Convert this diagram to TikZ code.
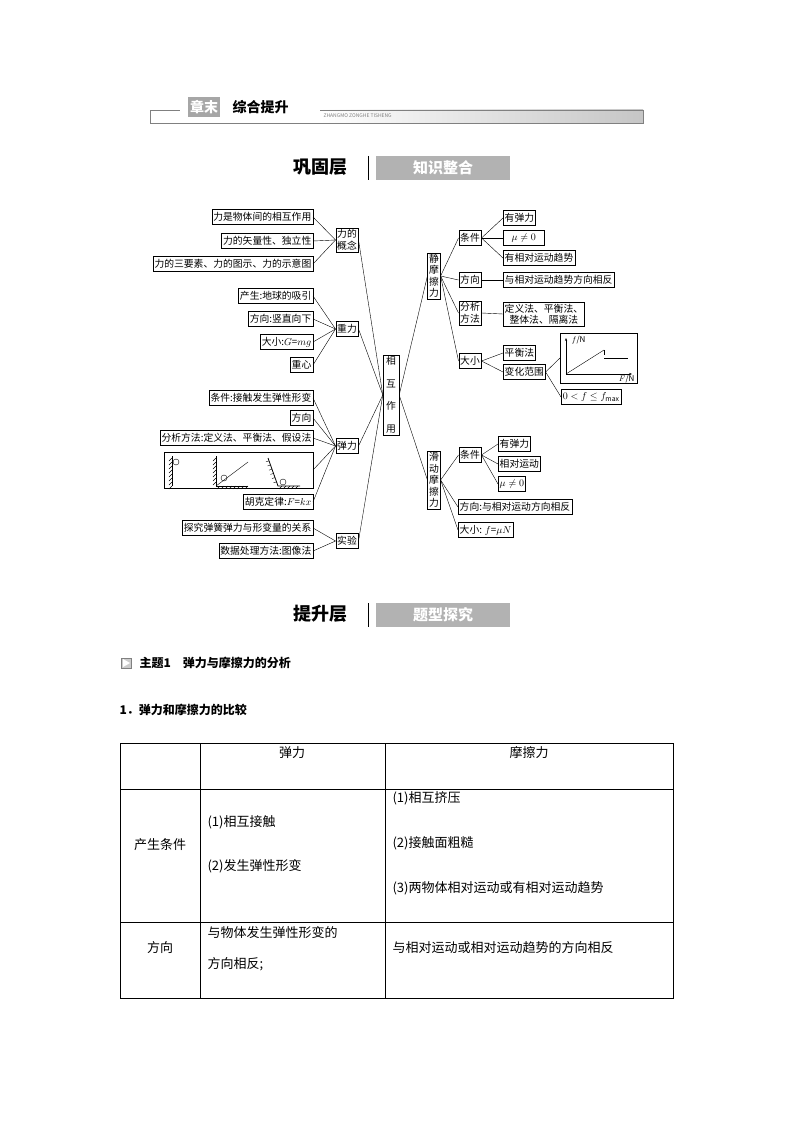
\documentclass[tikz,border=0pt]{standalone}
\usepackage{fontspec}
\setmainfont{Noto Sans CJK SC}
\usetikzlibrary{positioning,calc,arrows.meta}

\tikzset{
  box/.style={draw, inner sep=1.5pt, minimum height=15pt, font=\fontsize{9.8}{10}\selectfont},
  vbox/.style={draw, inner sep=1.5pt, align=center, font=\fontsize{9.8}{11.5}\selectfont},
  cell/.style={anchor=west, font=\fontsize{13}{15}\selectfont},
  banner/.style={fill=gray!60, text=white, font=\bfseries\fontsize{15}{15}\selectfont},
}

\begin{document}
\begin{tikzpicture}[x=1pt,y=-1pt]
\useasboundingbox (0,0) rectangle (794,1123);

% header
\shade[left color=white, right color=gray!45] (320,110) rectangle (643,123);
\draw[gray] (150,110) -- (180,110);
\draw[gray] (320,110) -- (643,110) -- (643,123) -- (150,123) -- (150,110);
\node[fill=gray!70, text=white, font=\bfseries\fontsize{14}{14}\selectfont, inner sep=2pt, minimum height=20pt] (zm) at (204,107) {章末};
\node[font=\bfseries\fontsize{14}{14}\selectfont, anchor=west] (zh) at (229,107) {综合提升};
\node[font=\fontsize{5}{5}\selectfont, text=gray, anchor=west] (pin) at (320,116) {ZHANGMO ZONGHE TISHENG};

\node[font=\bfseries\fontsize{18}{18}\selectfont] (gg) at (320,167) {巩固层};
\draw (368,156) -- (368,180);
\node[banner, minimum width=134pt, minimum height=24pt] (zs) at (443,168) {知识整合};

% left side
\node[box, anchor=east] (l1) at (313,217) {力是物体间的相互作用};
\node[box, anchor=east] (l2) at (313,241) {力的矢量性、独立性};
\node[box, anchor=east] (l3) at (313,264) {力的三要素、力的图示、力的示意图};
\node[vbox] (gn) at (347,240) {力的\\概念};
\node[box, anchor=east] (g1) at (313,296) {产生:地球的吸引};
\node[box, anchor=east] (g2) at (313,319) {方向:竖直向下};
\node[box, anchor=east] (g3) at (313,342) {大小:$G$=$mg$};
\node[box, anchor=east] (g4) at (313,365) {重心};
\node[box] (zl) at (347,329) {重力};
\node[box, anchor=east] (e1) at (313,398) {条件:接触发生弹性形变};
\node[box, anchor=east] (e2) at (313,418) {方向};
\node[box, anchor=east] (e3) at (313,438) {分析方法:定义法、平衡法、假设法};
\node[draw, minimum width=149pt, minimum height=36pt, anchor=east] (e4) at (313,470) {};
\node[box, anchor=east] (e5) at (313,502) {胡克定律:$F$=$kx$};
\node[box] (tl) at (347,446) {弹力};
\node[box, anchor=east] (s1) at (313,528) {探究弹簧弹力与形变量的关系};
\node[box, anchor=east] (s2) at (313,551) {数据处理方法:图像法};
\node[box] (sy) at (347,541) {实验};

% spring pictures
\draw[thick] (172,456) -- (172,486);
\foreach \y in {458,462,...,486} \draw (172,\y) -- (169,\y+3);
\draw (176,462) circle (3pt);
\draw[thick] (216,456) -- (216,486) -- (248,486);
\foreach \y in {458,462,...,482} \draw (216,\y) -- (213,\y+3);
\foreach \x in {220,224,...,248} \draw (\x,486) -- (\x-3,489);
\draw (216,486) -- (248,462);
\draw (224,478) circle (3pt);
\draw[thick] (268,458) -- (278,486) -- (300,486);
\foreach \t in {0.1,0.25,...,0.9} \draw ($(268,458)!\t!(278,486)$) -- ++(-3,1);
\foreach \x in {282,286,...,300} \draw (\x,486) -- (\x-3,489);
\draw (283,482) circle (3pt);

\node[vbox, minimum width=16pt] (xh) at (391,395) {相\\[11pt]互\\[11pt]作\\[11pt]用};

\foreach \c/\p in {l1/gn,l2/gn,l3/gn,g1/zl,g2/zl,g3/zl,g4/zl,e1/tl,e2/tl,e3/tl,e4/tl,e5/tl,s1/sy,s2/sy}
  \draw (\c.east) -- (\p.west);
\foreach \p in {gn,zl,tl,sy}
  \draw (\p.east) -- (xh.west);

% right side
\node[vbox] (jm) at (434,276) {静\\摩\\擦\\力};
\node[box] (t1) at (470,238) {条件};
\node[box, anchor=west] (t11) at (503,218) {有弹力};
\node[box, anchor=west, minimum width=41pt] (t12) at (503,238) {$\mu\neq 0$};
\node[box, anchor=west] (t13) at (503,258) {有相对运动趋势};
\node[box] (t2) at (470,280) {方向};
\node[box, anchor=west] (t21) at (503,280) {与相对运动趋势方向相反};
\node[vbox] (t3) at (470,313) {分析\\方法};
\node[vbox, anchor=west] (t31) at (503,314) {定义法、平衡法、\\整体法、隔离法};
\node[box] (t4) at (470,361) {大小};
\node[box, anchor=west] (t41) at (503,353) {平衡法};
\node[box, anchor=west] (t42) at (503,372) {变化范围};
\node[draw, minimum width=77pt, minimum height=50pt, anchor=west] (t43) at (560,358) {};
\node[box, anchor=west, minimum width=60pt] (t44) at (561,397) {$0<f\leq f_{\max}$};
\draw[-{Stealth[length=3pt]}] (566,374) -- (566,338);
\draw[-{Stealth[length=3pt]}] (566,374) -- (632,374);
\draw (566,374) -- (604,350);
\draw (604,350) -- (604,355);
\draw (604,358) -- (628,358);
\node[font=\fontsize{8}{8}\selectfont, anchor=west] (fy) at (568,340) {$f$/N};
\node[font=\fontsize{8}{8}\selectfont, anchor=north east] (fx) at (638,372) {$F$/N};

\node[vbox] (hd) at (434,480) {滑\\动\\摩\\擦\\力};
\node[box] (h1) at (470,455) {条件};
\node[box, anchor=west] (h11) at (498,444) {有弹力};
\node[box, anchor=west] (h12) at (498,464) {相对运动};
\node[box, anchor=west] (h13) at (498,484) {$\mu\neq 0$};
\node[box, anchor=west] (h2) at (458,507) {方向:与相对运动方向相反};
\node[box, anchor=west] (h3) at (458,530) {大小: $f$=$\mu N$};

\foreach \p in {jm,hd} \draw (xh.east) -- (\p.west);
\foreach \c in {t1,t2,t3,t4} \draw (jm.east) -- (\c.west);
\foreach \c in {t11,t12,t13} \draw (t1.east) -- (\c.west);
\draw (t2.east) -- (t21.west);
\draw (t3.east) -- (t31.west);
\foreach \c in {t41,t42} \draw (t4.east) -- (\c.west);
\foreach \c in {t43,t44} \draw (t42.east) -- (\c.west);
\foreach \c in {h1,h2,h3} \draw (hd.east) -- (\c.west);
\foreach \c in {h11,h12,h13} \draw (h1.east) -- (\c.west);

% second part
\node[font=\bfseries\fontsize{18}{18}\selectfont] (ts) at (320,614) {提升层};
\draw (368,603) -- (368,627);
\node[banner, minimum width=134pt, minimum height=24pt] (tx) at (443,615) {题型探究};

\node[draw=gray, fill=gray!40, minimum size=10pt, inner sep=0pt] (tri) at (126,663) {};
\fill[white] (123,659) -- (130,663) -- (123,667) -- cycle;
\node[font=\bfseries\fontsize{12}{12}\selectfont, anchor=west] (zt) at (136,663) {主题1\quad 弹力与摩擦力的分析};
\node[font=\bfseries\fontsize{12}{12}\selectfont, anchor=west] (bj) at (116,710) {1．弹力和摩擦力的比较};

% table
\draw (120,743) rectangle (673,998);
\draw (200,743) -- (200,998);
\draw (385,743) -- (385,998);
\draw (120,789) -- (673,789);
\draw (120,922) -- (673,922);
\node[font=\fontsize{13}{15}\selectfont] (c1) at (292,753) {弹力};
\node[font=\fontsize{13}{15}\selectfont] (c2) at (529,753) {摩擦力};
\node[font=\fontsize{13}{15}\selectfont] (r1) at (160,845) {产生条件};
\node[cell] (a1) at (204,822) {(1)相互接触};
\node[cell] (a2) at (204,866) {(2)发生弹性形变};
\node[cell] (b1) at (389,798) {(1)相互挤压};
\node[cell] (b2) at (389,843) {(2)接触面粗糙};
\node[cell] (b3) at (389,888) {(3)两物体相对运动或有相对运动趋势};
\node[font=\fontsize{13}{15}\selectfont] (r2) at (160,948) {方向};
\node[cell] (a3) at (204,933) {与物体发生弹性形变的};
\node[cell] (a4) at (204,964) {方向相反;};
\node[cell] (b4) at (389,948) {与相对运动或相对运动趋势的方向相反};
\end{tikzpicture}
\end{document}
